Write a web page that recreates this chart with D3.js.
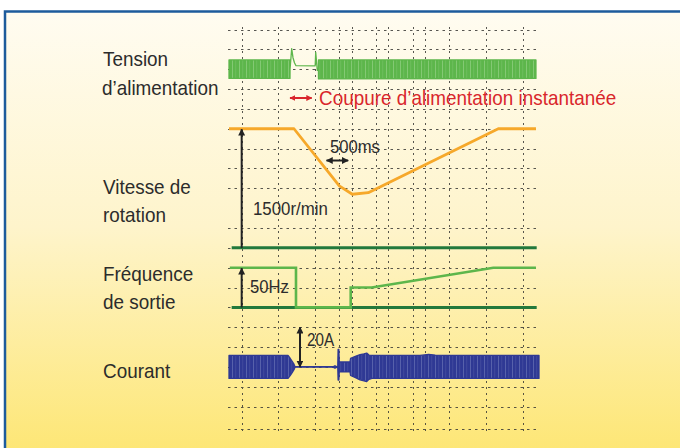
<!DOCTYPE html>
<html><head><meta charset="utf-8">
<script src="https://cdn.jsdelivr.net/npm/d3@7"></script>
<style>
html,body{margin:0;padding:0;background:#fff;}
svg{display:block;}
text{font-family:"Liberation Sans",Arial,sans-serif;}
</style></head>
<body>
<svg id="chart" width="680" height="448"></svg>
<script>
// ---------- data (time in seconds) ----------
const timeDomain = [0, 7.14];
const gridDivs = [0,1,2,3,4,5,6,7,8,10,11,12,13,14,15,16,17,18,19,20.14];
const gridTimesA = [0.292, 1.135, 1.981, 2.826, 3.669, 4.514];
const gridTimesB = [2.540, 3.386, 4.231, 5.074, 5.919, 6.764];

// Supply voltage envelope (V)
const voltT     = [0, 1.405, 1.406, 1.444, 1.474, 1.508, 1.543, 1.985, 1.997, 2.034, 2.060, 2.061, 7.07];
const voltUpper = [270, 270, 0, 600, 336, 190, 102, 100, 490, -35, -35, 270, 270];
const voltLower = [-270, -270, 0, 600, 336, 190, 102, 100, 490, -35, -35, -285, -270];

// Motor speed (r/min)
const speedT   = [0, 1.497, 2.540, 2.840, 3.208, 6.202, 7.07];
const speedVal = [1500, 1500, 780, 675, 695, 1500, 1500];

// Output frequency (Hz)
const freqT   = [0.02, 1.543, 1.543, 2.803, 2.803, 3.287, 6.087, 7.07];
const freqVal = [50, 50, 0, 0, 25, 25, 50, 50];

// Current envelope (A)
const curT     = [0, 1.359, 1.405, 1.451, 1.497, 1.520, 2.395, 2.441, 2.487, 2.505, 2.513, 2.530, 2.540, 2.579, 2.787, 2.800, 2.925, 3.017, 3.109, 3.171, 3.224, 3.293, 4.40, 4.60, 4.75, 4.95, 7.14];
const curUpper = [5.8, 5.8, 4.5, 3.0, 1.4, 0.1, 0.1, 0.6, 0.1, 0.3, 8.9, 8.9, 2.5, 2.5, 2.5, 4.3, 5.5, 6.2, 6.6, 7.0, 6.0, 5.8, 5.8, 6.3, 6.0, 5.8, 5.8];
const curLower = [-5.8, -5.8, -4.5, -3.0, -1.4, -0.1, -0.1, -0.6, -0.1, -0.3, -6.6, -6.6, -2.5, -2.5, -2.5, -4.3, -5.5, -6.5, -7.0, -7.4, -6.2, -5.8, -5.8, -5.6, -5.8, -5.8, -5.8];

const baseT = [0.062, 7.087];

// ---------- scales ----------
const svg = d3.select("#chart");
const x = d3.scaleLinear().domain(timeDomain).range([229, 539]);
const yDiv = d3.scaleLinear().domain([0, 20]).range([29.5, 426.5]);
const yVolt = d3.scaleLinear().domain([0, 580]).range([yDiv(2), yDiv(1)]);
const ySpeed = d3.scaleLinear().domain([0, 1500]).range([yDiv(11), yDiv(5)]);
const yFreq = d3.scaleLinear().domain([0, 50]).range([yDiv(14), yDiv(12)]);
const yCur = d3.scaleLinear().domain([0, 20]).range([yDiv(17), yDiv(15)]);

// ---------- defs ----------
const defs = svg.append("defs");
const grad = defs.append("linearGradient").attr("id","bg").attr("x1",0).attr("y1",0).attr("x2",0).attr("y2",1);
grad.append("stop").attr("offset","0%").attr("stop-color","#fffcf1");
grad.append("stop").attr("offset","45%").attr("stop-color","#fef4cb");
grad.append("stop").attr("offset","100%").attr("stop-color","#fde466");

function stripes(id, base, light){
  const p = defs.append("pattern").attr("id",id).attr("patternUnits","userSpaceOnUse").attr("width",7).attr("height",20);
  p.append("rect").attr("width",7).attr("height",20).attr("fill",base);
  p.append("rect").attr("x",1).attr("width",0.8).attr("height",20).attr("fill",light).attr("opacity",0.55);
  p.append("rect").attr("x",4.5).attr("width",0.6).attr("height",20).attr("fill",light).attr("opacity",0.3);
}
stripes("gstripe", "#5db64b", "#b5e0a8");
stripes("bstripe", "#2f3994", "#8a93c8");

function marker(id, color, size){
  defs.append("marker").attr("id",id).attr("viewBox","0 0 10 10").attr("refX",9).attr("refY",5)
    .attr("markerWidth",size).attr("markerHeight",size).attr("markerUnits","userSpaceOnUse")
    .attr("orient","auto-start-reverse")
    .append("path").attr("d","M0,0 L10,5 L0,10 Z").attr("fill",color);
}
marker("ab", "#222", 7);
marker("ar", "#d9262c", 6);

// ---------- frame ----------
svg.append("rect").attr("x",5).attr("y",11.5).attr("width",720).attr("height",480)
  .attr("fill","url(#bg)").attr("stroke","#1d5b9c").attr("stroke-width",2.5);

// ---------- grid ----------
const grid = svg.append("g").attr("stroke","#3a3a36").attr("stroke-width",1).attr("opacity",0.85);
grid.selectAll("line.h").data(gridDivs).join("line").attr("class","h")
  .attr("x1",228).attr("x2",537).attr("y1",d=>Math.round(yDiv(d))+0.5).attr("y2",d=>Math.round(yDiv(d))+0.5)
  .attr("stroke-dasharray","2.5,4");
grid.selectAll("line.v").data(gridTimesA.concat(gridTimesB)).join("line").attr("class","v")
  .attr("x1",d=>Math.round(x(d))+0.5).attr("x2",d=>Math.round(x(d))+0.5).attr("y1",27).attr("y2",433)
  .attr("stroke-dasharray","2,4");

// ---------- baselines ----------
svg.append("line").attr("x1",x(baseT[0])).attr("x2",x(baseT[1])).attr("y1",ySpeed(0)).attr("y2",ySpeed(0))
  .attr("stroke","#22793c").attr("stroke-width",3);
svg.append("line").attr("x1",x(baseT[0])).attr("x2",x(baseT[1])).attr("y1",yFreq(0)).attr("y2",yFreq(0))
  .attr("stroke","#22793c").attr("stroke-width",3);

// ---------- traces ----------
const voltData = voltT.map((t,i)=>({t, hi:voltUpper[i], lo:voltLower[i]}));
svg.append("path").datum(voltData)
  .attr("d", d3.area().x(d=>x(d.t)).y0(d=>yVolt(d.lo)).y1(d=>yVolt(d.hi)))
  .attr("fill","url(#gstripe)").attr("stroke","#5db64b").attr("stroke-width",1.3).attr("stroke-linejoin","round");

const curData = curT.map((t,i)=>({t, hi:curUpper[i], lo:curLower[i]}));
svg.append("path").datum(curData)
  .attr("d", d3.area().x(d=>x(d.t)).y0(d=>yCur(d.lo)).y1(d=>yCur(d.hi)))
  .attr("fill","url(#bstripe)").attr("stroke","#2f3994").attr("stroke-width",1.3).attr("stroke-linejoin","round");

svg.append("path").datum(speedT.map((t,i)=>[t, speedVal[i]]))
  .attr("d", d3.line().x(d=>x(d[0])).y(d=>ySpeed(d[1])))
  .attr("fill","none").attr("stroke","#f6a82a").attr("stroke-width",2.8).attr("stroke-linejoin","round");

svg.append("path").datum(freqT.map((t,i)=>[t, freqVal[i]]))
  .attr("d", d3.line().x(d=>x(d[0])).y(d=>yFreq(d[1])))
  .attr("fill","none").attr("stroke","#5db64b").attr("stroke-width",2.6).attr("stroke-linejoin","miter");

// ---------- annotation arrows ----------
function arrow(x1,y1,x2,y2,color,w,startM,endM){
  const l = svg.append("line").attr("x1",x1).attr("y1",y1).attr("x2",x2).attr("y2",y2)
    .attr("stroke",color).attr("stroke-width",w);
  if(startM) l.attr("marker-start",`url(#${startM})`);
  if(endM) l.attr("marker-end",`url(#${endM})`);
}
arrow(x(0.292), ySpeed(0), x(0.292), ySpeed(1500)+0.5, "#222", 2, null, "ab");
arrow(x(0.292), yFreq(0), x(0.292), yFreq(50)+0.5, "#222", 2, null, "ab");
arrow(x(1.635), yCur(0), x(1.635), yCur(20), "#222", 2, "ab", "ab");
arrow(x(2.245), ySpeed(1100), x(2.745), ySpeed(1100), "#222", 2, "ab", "ab");
arrow(x(1.405), yDiv(3.45), x(1.905), yDiv(3.45), "#d9262c", 2, "ar", "ar");

// ---------- text ----------
function label(txt, px, py, size, sx, color){
  svg.append("text").attr("transform",`translate(${px},${py}) scale(${sx},1)`)
    .attr("font-size",size).attr("fill",color||"#2c2c2c").text(txt);
}
label("Tension", 103, 66, 21, 0.9);
label("d\u2019alimentation", 102, 95, 21, 0.9);
label("Vitesse de", 103, 194, 21, 0.9);
label("rotation", 103, 222, 21, 0.9);
label("Fréquence", 103, 281, 21, 0.9);
label("de sortie", 103, 309, 21, 0.9);
label("Courant", 103, 378, 21, 0.9);
label("Coupure d\u2019alimentation instantanée", 319, 105, 21, 0.9, "#d9262c");
label("500ms", 330, 153, 18.5, 0.9);
label("1500r/min", 253, 215, 18.5, 0.91);
label("50Hz", 250, 293, 17.5, 0.95);
label("20A", 307, 346, 19, 0.8);
</script>
</body></html>
